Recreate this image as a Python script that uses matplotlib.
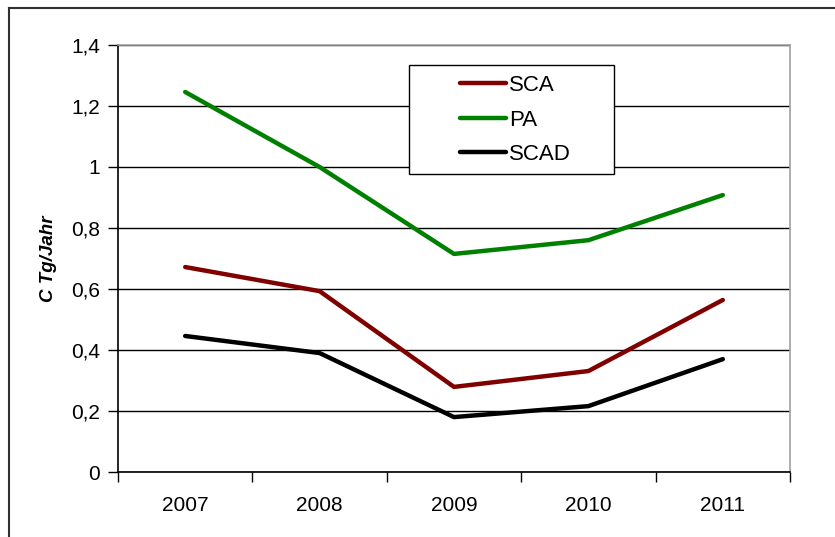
import matplotlib
matplotlib.use("Agg")
import matplotlib.pyplot as plt
from matplotlib.lines import Line2D
from matplotlib.patches import Rectangle

plt.rcParams['font.family'] = ['Liberation Sans', 'DejaVu Sans']

years = ['2007', '2008', '2009', '2010', '2011']
sca = [0.672, 0.593, 0.279, 0.331, 0.564]
pa = [1.246, 1.000, 0.715, 0.760, 0.908]
scad = [0.446, 0.390, 0.180, 0.216, 0.370]
yticks = [0, 0.2, 0.4, 0.6, 0.8, 1.0, 1.2, 1.4]
ytick_labels = ['0', '0,2', '0,4', '0,6', '0,8', '1', '1,2', '1,4']

W, H = 835, 537
fig = plt.figure(figsize=(W / 100, H / 100), dpi=100)
ax = fig.add_axes([118 / W, 1 - 472 / H, (790 - 118) / W, (472 - 45) / H])

x = list(range(len(years)))
kw = dict(lw=3.2, solid_capstyle='round', solid_joinstyle='round', zorder=3)
ax.plot(x, sca, color='#800000', label='SCA', **kw)
ax.plot(x, pa, color='#008000', label='PA', **kw)
ax.plot(x, scad, color='#000000', label='SCAD', **kw)

ax.set_xlim(-0.5, len(years) - 0.5)
ax.set_ylim(0, 1.4)
ax.set_yticks(yticks)
ax.set_yticklabels(ytick_labels)
ax.yaxis.grid(True, color='black', lw=1)
ax.set_axisbelow(True)

ax.set_xticks(x)
ax.set_xticklabels(years)
ax.set_xticks([i - 0.5 for i in range(len(years) + 1)], minor=True)
ax.tick_params(axis='x', which='major', length=0, pad=17, labelsize=15)
ax.tick_params(axis='x', which='minor', length=7, width=1, direction='out', color='black')
ax.tick_params(axis='y', length=7, width=1, direction='out', pad=6, labelsize=15)

for s in ['left', 'bottom']:
    ax.spines[s].set_color('black')
    ax.spines[s].set_linewidth(1.2)
for s in ['top', 'right']:
    ax.spines[s].set_color('#a0a0a0')
    ax.spines[s].set_linewidth(1.2)

ax.set_ylabel('C Tg/Jahr', fontsize=13.5, fontweight='bold', fontstyle='italic', labelpad=10)

# legend box (drawn in figure pixel coordinates)
fig.add_artist(Rectangle((409 / W, 1 - 174 / H), (614 - 409) / W, (174 - 65) / H,
                         transform=fig.transFigure, facecolor='white', edgecolor='black', lw=1, zorder=4))
leg = fig.legend(loc='upper left', bbox_to_anchor=(460 / W, 1 - 75 / H),
                 fontsize=16, frameon=False, handlelength=2.05, handletextpad=0.14,
                 labelspacing=0.61, borderpad=0, borderaxespad=0)
leg.set_zorder(5)

# outer frame (clipped at right and bottom)
fig.add_artist(Line2D([9 / W, 9 / W], [0, 1 - 8 / H], transform=fig.transFigure, color='#303030', lw=1.5))
fig.add_artist(Line2D([9 / W, 1], [1 - 8 / H, 1 - 8 / H], transform=fig.transFigure, color='#303030', lw=1.5))

fig.savefig('out.png', dpi=100)
